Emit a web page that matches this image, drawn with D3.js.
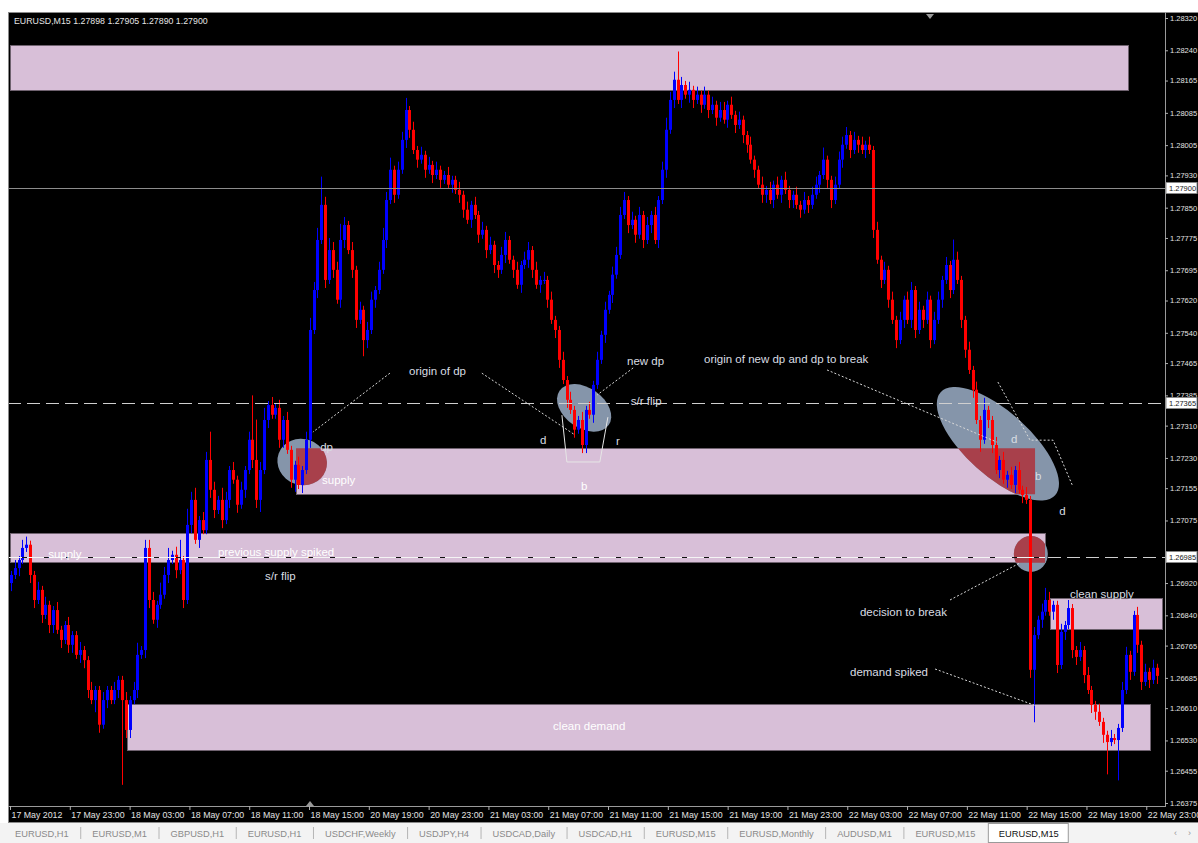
<!DOCTYPE html>
<html>
<head>
<meta charset="utf-8">
<title>EURUSD,M15</title>
<script src="https://cdn.jsdelivr.net/npm/d3@7"></script>
<style>
  * { margin: 0; padding: 0; }
  body { background: #fff; width: 1198px; height: 843px; overflow: hidden; }
  svg { display: block; }
</style>
</head>
<body>
<svg id="chart" width="1198" height="843"></svg>
<script>
// ---- data: EURUSD M15, one close per bar, open = previous close ----
var firstOpen = 1.26920;
var closes = [
  1.26940,1.26957,1.26977,1.27007,1.27015,1.26940,1.26878,1.26903,1.26841,1.26866,
  1.26816,1.26853,1.26804,1.26779,1.26816,1.26767,1.26791,1.26742,1.26754,1.26729,
  1.26655,1.26630,1.26655,1.26569,1.26630,1.26655,1.26630,1.26655,1.26680,1.26630,
  1.26556,1.26630,1.26655,1.26742,1.26754,1.27007,1.26878,1.26829,1.26866,1.26891,
  1.26940,1.26977,1.26990,1.26952,1.26977,1.26878,1.27064,1.27126,1.27027,1.27076,
  1.27051,1.27225,1.27151,1.27101,1.27126,1.27076,1.27126,1.27200,1.27176,1.27114,
  1.27151,1.27200,1.27275,1.27225,1.27126,1.27200,1.27324,1.27361,1.27337,1.27354,
  1.27275,1.27324,1.27250,1.27176,1.27213,1.27163,1.27200,1.27275,1.27547,1.27646,
  1.27770,1.27857,1.27671,1.27745,1.27696,1.27622,1.27770,1.27807,1.27745,1.27696,
  1.27572,1.27597,1.27522,1.27547,1.27622,1.27646,1.27696,1.27770,1.27869,1.27944,
  1.27882,1.27944,1.28018,1.28092,1.28043,1.27993,1.27969,1.27981,1.27944,1.27956,
  1.27931,1.27944,1.27919,1.27931,1.27907,1.27919,1.27894,1.27882,1.27845,1.27820,
  1.27857,1.27832,1.27783,1.27795,1.27745,1.27758,1.27708,1.27696,1.27733,1.27770,
  1.27721,1.27696,1.27659,1.27708,1.27721,1.27745,1.27696,1.27659,1.27671,1.27671,
  1.27622,1.27572,1.27547,1.27473,1.27423,1.27374,1.27349,1.27300,1.27324,1.27262,
  1.27349,1.27337,1.27411,1.27473,1.27535,1.27597,1.27634,1.27684,1.27733,1.27832,
  1.27869,1.27807,1.27820,1.27783,1.27832,1.27770,1.27807,1.27832,1.27770,1.27869,
  1.27944,1.28043,1.28117,1.28167,1.28117,1.28154,1.28130,1.28142,1.28117,1.28130,
  1.28105,1.28130,1.28092,1.28105,1.28073,1.28092,1.28068,1.28105,1.28080,1.28055,
  1.28068,1.28030,1.28006,1.27969,1.27944,1.27907,1.27882,1.27894,1.27869,1.27907,
  1.27882,1.27919,1.27894,1.27869,1.27882,1.27857,1.27845,1.27869,1.27857,1.27882,
  1.27907,1.27931,1.27969,1.27919,1.27869,1.27907,1.27969,1.28006,1.28030,1.27993,
  1.28018,1.28006,1.27993,1.28006,1.27993,1.27795,1.27721,1.27671,1.27696,1.27622,
  1.27572,1.27522,1.27572,1.27622,1.27572,1.27646,1.27547,1.27597,1.27572,1.27622,
  1.27522,1.27572,1.27622,1.27671,1.27708,1.27646,1.27721,1.27671,1.27572,1.27498,
  1.27448,1.27399,1.27324,1.27275,1.27349,1.27324,1.27262,1.27200,1.27225,1.27176,
  1.27188,1.27163,1.27200,1.27151,1.27138,1.27126,1.26705,1.26791,1.26829,1.26849,
  1.26878,1.26849,1.26866,1.26717,1.26799,1.26816,1.26858,1.26754,1.26737,1.26754,
  1.26692,1.26655,1.26618,1.26601,1.26576,1.26544,1.26526,1.26536,1.26531,1.26561,
  1.26655,1.26742,1.26700,1.26841,1.26767,1.26675,1.26700,1.26680,1.26710,1.26690
];
// wick lengths beyond the body, in pips
var wickUp = [
  1,2,1,2,2,1,1,2,1,2,1,1,2,1,1,2,1,1,2,1,
  1,2,1,1,2,1,1,2,1,1,2,1,2,3,1,2,2,2,1,3,
  2,3,1,2,5,1,4,2,3,1,2,2,7,2,1,3,2,1,2,1,
  2,1,2,11,10,2,3,1,2,1,2,1,2,1,1,2,1,2,3,2,
  3,7,2,3,2,2,4,2,1,2,1,2,1,2,2,1,2,3,2,3,
  1,2,2,3,1,2,1,2,1,2,1,2,1,1,2,1,1,2,1,2,
  1,2,1,2,1,2,1,1,2,2,1,1,2,1,2,2,1,2,1,2,
  1,2,1,1,2,1,2,1,1,2,1,2,1,2,1,2,1,2,2,2,
  2,1,2,1,2,1,2,1,2,1,2,3,2,2,7,2,1,2,1,2,
  1,2,1,2,1,2,2,1,2,1,2,1,1,2,1,1,2,1,2,1,
  2,1,2,1,1,2,1,2,1,2,2,1,3,1,1,2,2,2,2,1,
  2,1,2,1,2,1,2,1,2,1,2,1,2,1,2,2,1,2,1,2,
  1,2,2,1,2,1,5,2,1,1,2,1,2,1,3,1,1,2,1,2,
  1,2,1,2,1,2,1,2,1,2,3,2,1,1,2,1,2,1,1,2,
  1,2,1,1,2,1,1,2,1,1,2,2,1,1,2,1,2,1,2,1
];
var wickDn = [
  2,1,2,1,1,2,2,1,2,1,2,2,1,2,1,2,2,1,2,2,
  2,1,3,2,1,2,1,1,2,21,2,2,1,2,1,2,2,1,2,1,
  1,2,1,2,1,2,1,2,1,2,1,1,2,2,1,2,1,2,1,2,
  1,2,1,2,2,3,1,2,1,1,2,2,1,2,3,1,2,1,2,1,
  2,1,2,1,2,1,2,2,1,2,2,1,4,2,1,2,1,1,2,1,
  2,1,1,2,2,1,2,1,2,1,2,1,2,1,1,2,1,2,2,1,
  2,1,2,1,2,1,2,2,1,2,1,2,1,2,1,2,2,1,2,1,
  2,1,2,2,1,2,1,2,1,2,2,1,2,1,1,2,1,2,1,1,
  1,2,1,2,1,2,1,2,1,2,1,2,1,2,1,2,1,2,2,1,
  2,1,2,1,2,1,1,2,1,2,1,2,2,1,2,1,2,2,1,2,
  1,2,1,2,2,1,2,1,2,1,1,2,1,2,2,1,1,2,1,2,
  1,2,1,2,1,2,1,2,1,2,1,2,1,2,1,2,2,1,2,1,
  2,1,1,2,1,2,1,1,2,2,1,2,1,3,1,2,2,1,2,1,
  2,1,2,1,2,1,2,13,1,2,1,1,2,2,1,2,1,2,2,1,
  2,1,2,2,1,2,8,1,1,10,1,1,2,1,2,2,1,2,1,2
];

var priceTicks = [1.28320,1.28240,1.28165,1.28085,1.28005,1.27930,1.27850,1.27775,1.27695,
  1.27620,1.27540,1.27465,1.27385,1.27310,1.27230,1.27155,1.27075,1.26920,1.26840,
  1.26765,1.26685,1.26610,1.26530,1.26455,1.26375];
// where the time labels sit, in bar units of the x scale
var timeTickBars = [-0.26,15.35,30.96,46.57,62.18,77.79,93.40,109.01,124.62,140.23,155.84,
  171.45,187.06,202.67,218.28,233.89,249.50,265.11,280.72,296.33];
var timeLabels = ['17 May 2012','17 May 23:00','18 May 03:00','18 May 07:00','18 May 11:00',
  '18 May 15:00','20 May 19:00','20 May 23:00','21 May 03:00','21 May 07:00','21 May 11:00',
  '21 May 15:00','21 May 19:00','21 May 23:00','22 May 03:00','22 May 07:00','22 May 11:00',
  '22 May 15:00','22 May 19:00','22 May 23:00'];

var bidPrice = 1.27900;
var levelPrices = [1.27365, 1.26985];
var quote = 'EURUSD,M15  1.27898 1.27905 1.27890 1.27900';

// supply / demand rectangles: bar index span and price span
var zoneFrom = [-0.3, 74.4, -0.3, 271.2, 30.3];
var zoneTo   = [291.6, 267.3, 269.9, 300.4, 297.3];
var zoneHi   = [1.28254, 1.27254, 1.27043, 1.26883, 1.26620];
var zoneLo   = [1.28142, 1.27140, 1.26970, 1.26807, 1.26506];

// ellipse anchors (bar, price) and the zone they overlap (-1 none)
var ellBar   = [76.0, 149.6, 257.6, 266.2];
var ellPrice = [1.27220, 1.27354, 1.27265, 1.26992];
var ellZone  = [1, -1, 1, 2];

// annotation trend lines, points as [bar, price]
var noteLines = [
  [[98.9, 1.27440], [78.8, 1.27294]],
  [[122.9, 1.27440], [147.2, 1.27287]],
  [[162.4, 1.27453], [153.0, 1.27386]],
  [[213.0, 1.27448], [257.4, 1.27269]],
  [[257.6, 1.27418], [266.0, 1.27274], [272.0, 1.27274], [277.0, 1.27163]],
  [[245.1, 1.26878], [263.4, 1.26970]],
  [[241.2, 1.26707], [267.8, 1.26615]]
];
var bracket = [[143.8, 1.27336], [145.1, 1.27220], [153.7, 1.27220], [155.8, 1.27331]];

var noteText  = ['origin of dp','dp','supply','new dp','s/r flip','d','r','b',
  'origin of new dp and dp to break','d','b','d','supply','previous supply spiked','s/r flip',
  'decision to break','clean supply','demand spiked','clean demand'];
var noteBar   = [103.9,80.7,81.2,160.8,161.8,138.1,157.9,148.8,180.9,261.0,267.3,273.6,
  9.7,54.0,66.3,221.6,276.4,219.0,141.5];
var notePrice = [1.27445,1.27257,1.27175,1.27470,1.27371,1.27274,1.27272,1.27160,1.27475,
  1.27277,1.27185,1.27098,1.26992,1.26997,1.26937,1.26848,1.26893,1.26699,1.26566];
var noteInZone = [0,0,1,0,0,0,0,1,0,0,0,0,1,1,0,0,0,0,1];

var tabNames = ['EURUSD,H1','EURUSD,M1','GBPUSD,H1','EURUSD,H1','USDCHF,Weekly','USDJPY,H4',
  'USDCAD,Daily','USDCAD,H1','EURUSD,M15','EURUSD,Monthly','AUDUSD,M1','EURUSD,M15','EURUSD,M15'];
var activeTab = 12;

// ---- layout ----
var pip = 0.0001;
var chartL = 8, chartT = 12, chartR = 1198, chartB = 822;
var axisX = 1165, axisY = 806;
var font = '"Liberation Sans", Arial, sans-serif';

var x = d3.scaleLinear().domain([0, 299]).range([11, 1156.5]);
var y = d3.scaleLinear().domain([1.26375, 1.28320]).range([803, 18]);

var candles = closes.map(function(c, i) {
  var o = i ? closes[i - 1] : firstOpen;
  return {i: i, o: o, c: c,
          h: Math.max(o, c) + wickUp[i] * pip,
          l: Math.min(o, c) - wickDn[i] * pip};
});

var svg = d3.select('#chart');
svg.append('rect').attr('width', 1198).attr('height', 843).attr('fill', '#fff');
svg.append('rect')
    .attr('x', chartL + 0.5).attr('y', chartT + 0.5)
    .attr('width', chartR - chartL).attr('height', chartB - chartT)
    .attr('fill', '#000').attr('stroke', '#8a8a8a');

var defs = svg.append('defs');
defs.append('clipPath').attr('id', 'plot').append('rect')
    .attr('x', chartL + 1).attr('y', chartT + 1)
    .attr('width', axisX - chartL - 1).attr('height', axisY - chartT - 1);

var plot = svg.append('g').attr('clip-path', 'url(#plot)');

// zones (background objects)
var zoneData = zoneFrom.map(function(f, k) {
  return {x0: x(f), x1: x(zoneTo[k]), y0: y(zoneHi[k]), y1: y(zoneLo[k])};
});
zoneData.forEach(function(z, k) {
  defs.append('clipPath').attr('id', 'zone' + k).append('rect')
      .attr('x', z.x0).attr('y', z.y0).attr('width', z.x1 - z.x0).attr('height', z.y1 - z.y0);
});
plot.append('g').selectAll('rect').data(zoneData).enter().append('rect')
    .attr('x', function(d) { return Math.round(d.x0) + 0.5; })
    .attr('y', function(d) { return Math.round(d.y0) + 0.5; })
    .attr('width', function(d) { return Math.round(d.x1 - d.x0); })
    .attr('height', function(d) { return Math.round(d.y1 - d.y0); })
    .attr('fill', '#d8bfd8')
    .attr('stroke', '#6f626f').attr('stroke-width', 1);

// ellipses; the part lying on a zone turns red
var ellRx = [25, 30, 77, 17], ellRy = [23, 20, 32, 18], ellRot = [20, 35, 42, 0];
var ellG = plot.append('g');
ellBar.forEach(function(b, k) {
  var tr = 'translate(' + x(b) + ',' + y(ellPrice[k]) + ') rotate(' + ellRot[k] + ')';
  ellG.append('ellipse').attr('transform', tr)
      .attr('rx', ellRx[k]).attr('ry', ellRy[k]).attr('fill', '#8595aa');
  if (ellZone[k] >= 0) {
    ellG.append('g').attr('clip-path', 'url(#zone' + ellZone[k] + ')')
      .append('ellipse').attr('transform', tr)
      .attr('rx', ellRx[k]).attr('ry', ellRy[k]).attr('fill', '#a8404b');
  }
});

// candles
var cg = plot.append('g');
var colour = function(d) { return d.c >= d.o ? '#0000ff' : '#ff0000'; };
cg.selectAll('line.wick').data(candles).enter().append('line')
    .attr('class', 'wick')
    .attr('x1', function(d) { return Math.round(x(d.i)) + 0.5; })
    .attr('x2', function(d) { return Math.round(x(d.i)) + 0.5; })
    .attr('y1', function(d) { return y(d.h); })
    .attr('y2', function(d) { return y(d.l); })
    .attr('stroke', colour).attr('stroke-width', 1);
cg.selectAll('rect.body').data(candles).enter().append('rect')
    .attr('class', 'body')
    .attr('x', function(d) { return Math.round(x(d.i)) - 1; })
    .attr('y', function(d) { return Math.min(y(d.o), y(d.c)); })
    .attr('width', 3)
    .attr('height', function(d) { return Math.max(1, Math.abs(y(d.o) - y(d.c))); })
    .attr('fill', colour);

// bid line
plot.append('line')
    .attr('x1', chartL).attr('x2', axisX)
    .attr('y1', Math.round(y(bidPrice)) + 0.5).attr('y2', Math.round(y(bidPrice)) + 0.5)
    .attr('stroke', '#8c8c8c');

// horizontal s/r levels
var upY = Math.round(y(levelPrices[0])) + 0.5;
plot.append('line').attr('x1', chartL).attr('x2', axisX).attr('y1', upY).attr('y2', upY)
    .attr('stroke', '#cfcfcf').attr('stroke-dasharray', '13,6');
var loY = Math.round(y(levelPrices[1])) + 0.5;
var z2 = zoneData[2];
plot.append('line').attr('x1', chartL).attr('x2', z2.x1).attr('y1', loY).attr('y2', loY)
    .attr('stroke', '#f4f4f4');
plot.append('line').attr('x1', chartL + 14).attr('x2', z2.x1).attr('y1', loY).attr('y2', loY)
    .attr('stroke', '#111').attr('stroke-dasharray', '5,17');
plot.append('line').attr('x1', z2.x1 + 3).attr('x2', axisX).attr('y1', loY).attr('y2', loY)
    .attr('stroke', '#cfcfcf').attr('stroke-dasharray', '13,6');

// annotation lines
var line = d3.line().x(function(p) { return x(p[0]); }).y(function(p) { return y(p[1]); });
plot.append('g').selectAll('path').data(noteLines).enter().append('path')
    .attr('d', line).attr('fill', 'none')
    .attr('stroke', '#d8d8d8').attr('stroke-width', 1).attr('stroke-dasharray', '2,2');
plot.append('path').attr('d', line(bracket)).attr('fill', 'none')
    .attr('stroke', '#e6e6e6').attr('stroke-width', 1);

// annotation text
plot.append('g').selectAll('text').data(noteText).enter().append('text')
    .attr('x', function(d, k) { return x(noteBar[k]); })
    .attr('y', function(d, k) { return y(notePrice[k]) + 4; })
    .attr('font-family', font).attr('font-size', '11.5px')
    .attr('fill', function(d, k) { return noteInZone[k] ? '#ffffff' : '#d9dde3'; })
    .text(function(d) { return d; });

// quote line
svg.append('text').attr('x', 14).attr('y', 24)
    .attr('font-family', font).attr('font-size', '8.8px').attr('fill', '#e4e4e4')
    .text(quote);

// shift markers
svg.append('path').attr('d', 'M926,14L934,14L930,19Z').attr('fill', '#9a9a9a');
svg.append('path').attr('d', 'M306,806L314,806L310,801Z').attr('fill', '#9a9a9a');

// price axis
var yAxis = d3.axisRight(y).tickValues(priceTicks)
    .tickFormat(d3.format('.5f')).tickSize(3).tickPadding(2);
var ya = svg.append('g').attr('transform', 'translate(' + axisX + ',0)').call(yAxis);
ya.select('.domain').attr('d', 'M0.5,' + chartT + 'V' + axisY).attr('stroke', '#9a9a9a');
ya.selectAll('line').attr('stroke', '#b0b0b0');
ya.selectAll('text').attr('fill', '#e2e2e2')
    .attr('font-family', font).attr('font-size', '7.5px');

// time axis
var xAxis = d3.axisBottom(x).tickValues(timeTickBars)
    .tickFormat(function(d, k) { return timeLabels[k]; }).tickSize(4).tickPadding(2);
var xa = svg.append('g').attr('transform', 'translate(0,' + axisY + ')').call(xAxis);
xa.select('.domain').attr('d', 'M' + chartL + ',0.5H' + (axisX + 1)).attr('stroke', '#9a9a9a');
xa.selectAll('line').attr('stroke', '#b0b0b0');
xa.selectAll('text').attr('fill', '#e2e2e2').attr('text-anchor', 'start')
    .attr('dx', '1px')
    .attr('font-family', font).attr('font-size', '8.8px');

// price boxes on the axis
var boxes = [bidPrice].concat(levelPrices);
var bg = svg.append('g').selectAll('g').data(boxes).enter().append('g')
    .attr('transform', function(d) { return 'translate(' + (axisX + 1) + ',' + Math.round(y(d)) + ')'; });
bg.append('rect').attr('x', 0).attr('y', -5.5).attr('width', 31).attr('height', 11)
    .attr('fill', '#ffffff').attr('stroke', '#888');
bg.append('text').attr('x', 3).attr('y', 3)
    .attr('font-family', font).attr('font-size', '7.5px').attr('fill', '#202020')
    .text(function(d) { return d3.format('.5f')(d); });

// symbol tabs
var tabs = svg.append('g');
tabs.append('rect').attr('x', 0).attr('y', chartB + 1).attr('width', 1198).attr('height', 843 - chartB - 1)
    .attr('fill', '#f3f3f3');
var tx = 15;
tabNames.forEach(function(name, k) {
  var t = tabs.append('text').attr('x', tx).attr('y', 837)
      .attr('font-family', font).attr('font-size', '9.3px')
      .attr('fill', k === activeTab ? '#111' : '#8a8a8a').text(name);
  var w = t.node().getComputedTextLength();
  if (k === activeTab) {
    tabs.insert('rect', 'text').attr('x', tx - 10.5).attr('y', chartB + 1.5)
        .attr('width', w + 20).attr('height', 19).attr('fill', '#fff').attr('stroke', '#9a9a9a');
  } else if (k + 1 !== activeTab) {
    tabs.append('line').attr('x1', tx + w + 12).attr('x2', tx + w + 12)
        .attr('y1', 827).attr('y2', 839).attr('stroke', '#b5b5b5');
  }
  tx += w + 23.5;
});
tabs.append('text').attr('x', 1174).attr('y', 836).attr('font-family', font)
    .attr('font-size', '9px').attr('fill', '#999').text('\u2039');
tabs.append('text').attr('x', 1188).attr('y', 836).attr('font-family', font)
    .attr('font-size', '9px').attr('fill', '#999').text('\u203a');
</script>
</body>
</html>
